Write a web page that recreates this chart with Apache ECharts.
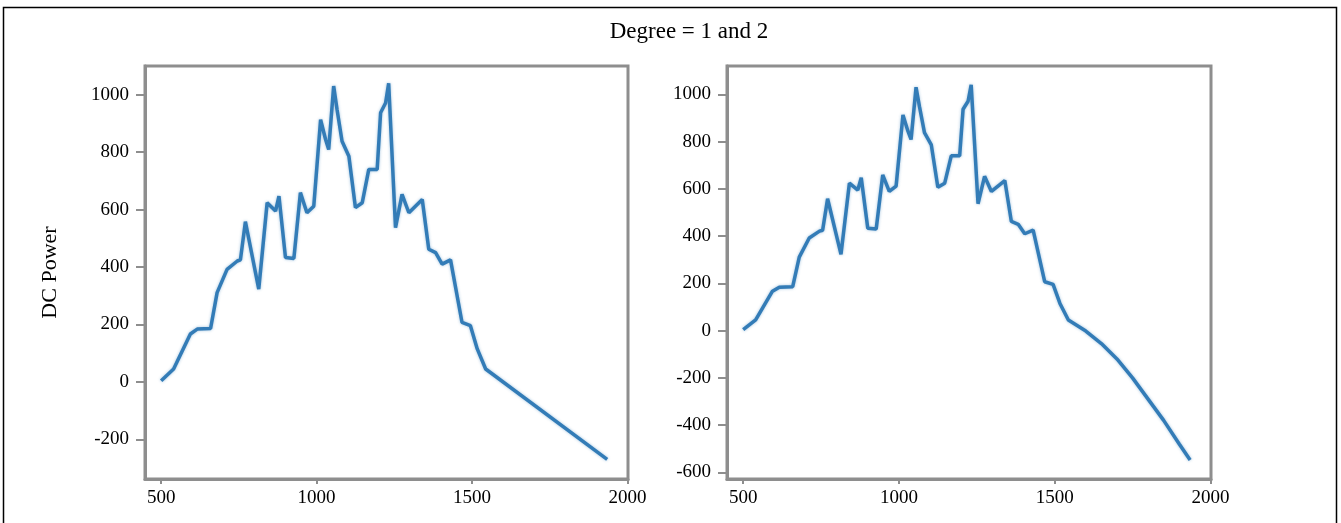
<!DOCTYPE html>
<html>
<head>
<meta charset="utf-8">
<script src="https://cdn.jsdelivr.net/npm/echarts@6/dist/echarts.min.js"></script>
<style>
html,body{margin:0;padding:0;background:#fff;}
#chart{width:1341px;height:523px;}
</style>
</head>
<body>
<div id="chart"></div>
<script>
// Shared measured part of the curve (x, DC power)
const xValues = [500,540,594,616,659,680,712,745,755,771,814,841,868,879,900,927,948,969,991,1013,1029,1039,1055,1066,1082,1104,1125,1147,1168,1195,1206,1222,1232,1254,1275,1297,1340,1361,1383,1404,1431,1468,1495,1517,1544];
const yValues = [4,45,167,184,186,311,392,421,425,558,323,624,595,647,433,430,659,589,612,913,844,809,1030,948,838,786,607,624,740,740,937,971,1040,537,653,589,635,462,450,410,425,207,196,115,45];
// Degree 1 extrapolated tail
const tail1X = [1935];
const tail1Y = [-270];
// Degree 2 extrapolated tail
const tail2X = [1600,1650,1700,1750,1800,1850,1900,1935];
const tail2Y = [-2,-55,-120,-200,-290,-380,-480,-548];

const xTicks = [500,1000,1500,2000];
const yTicksLeft = [-200,0,200,400,600,800,1000];
const yTicksRight = [-600,-400,-200,0,200,400,600,800,1000];
const titleText = 'Degree = 1 and 2';
const yName = 'DC Power';

function pairs(xs, ys){ return xs.map((x,i)=>[x, ys[i]]); }
const series1 = pairs(xValues.concat(tail1X), yValues.concat(tail1Y));
const series2 = pairs(xValues.concat(tail2X), yValues.concat(tail2Y));

const font = 'Liberation Serif, Times New Roman, serif';
const axisGrey = '#8e8e8e';
const plain = v => String(v);

function xAxisCfg(idx){
  return {
    type:'value', gridIndex:idx, min:448, max:2002,
    splitLine:{show:false},
    axisLine:{show:true, onZero:false, lineStyle:{color:axisGrey,width:3}},
    axisTick:{show:true, length:5, customValues:xTicks, lineStyle:{color:axisGrey,width:2}},
    axisLabel:{customValues:xTicks, formatter:plain, color:'#000', fontFamily:font, fontSize:19, margin:10}
  };
}
function yAxisCfg(idx, min, max, ticks, name){
  return {
    type:'value', gridIndex:idx, min:min, max:max,
    name: name || '', nameLocation:'middle', nameGap:84,
    nameTextStyle:{color:'#000', fontFamily:font, fontSize:22},
    splitLine:{show:false},
    axisLine:{show:true, onZero:false, lineStyle:{color:axisGrey,width:3}},
    axisTick:{show:true, length:9, customValues:ticks, lineStyle:{color:axisGrey,width:2}},
    axisLabel:{customValues:ticks, formatter:plain, color:'#000', fontFamily:font, fontSize:19, margin:16}
  };
}
const lineStyle = {color:'#337cb7', width:3.5, shadowBlur:3, shadowColor:'rgba(46,120,180,0.45)'};

const chart = echarts.init(document.getElementById('chart'), null, {renderer:'canvas'});
chart.setOption({
  backgroundColor:'#fff',
  animation:false,
  title:{text:titleText, left:684, top:15, textAlign:'center',
    textStyle:{color:'#000', fontFamily:font, fontSize:23, fontWeight:'normal'}},
  graphic:[{type:'rect', shape:{x:3.5,y:7.5,width:1333,height:520}, style:{fill:null, stroke:'#000', lineWidth:1.5}, silent:true}],
  grid:[
    {left:145, top:66, width:483, height:413, show:true, borderColor:axisGrey, borderWidth:3},
    {left:727, top:66, width:484, height:413, show:true, borderColor:axisGrey, borderWidth:3}
  ],
  xAxis:[xAxisCfg(0), xAxisCfg(1)],
  yAxis:[yAxisCfg(0,-338,1100,yTicksLeft,yName), yAxisCfg(1,-628,1120,yTicksRight,'')],
  series:[
    {type:'line', xAxisIndex:0, yAxisIndex:0, data:series1, showSymbol:false, lineStyle:lineStyle, itemStyle:{color:'#337cb7'}},
    {type:'line', xAxisIndex:1, yAxisIndex:1, data:series2, showSymbol:false, lineStyle:lineStyle, itemStyle:{color:'#337cb7'}}
  ]
});
</script>
</body>
</html>
